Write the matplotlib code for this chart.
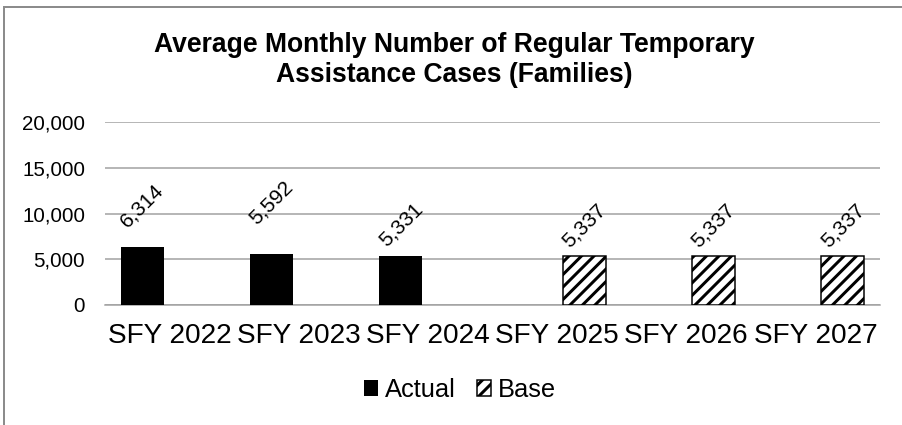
import numpy as np
import matplotlib
matplotlib.use("Agg")
import matplotlib.pyplot as plt
from matplotlib.lines import Line2D

# caseload data, SFY 2022-2027
years = ["SFY 2022", "SFY 2023", "SFY 2024", "SFY 2025", "SFY 2026", "SFY 2027"]
actual = [6314, 5592, 5331, None, None, None]
base = [None, None, None, 5337, 5337, 5337]

# distance of each value label above its bar (pixels)
label_lift = [42, 51, 32, 30, 30, 30]

DPI = 75


def px(v):
    # pixel size -> points at the figure dpi
    return v * 72.0 / DPI


plt.rcParams["font.family"] = ["Liberation Sans", "DejaVu Sans"]
plt.rcParams["hatch.linewidth"] = px(3)

fig = plt.figure(figsize=(902 / DPI, 425 / DPI), dpi=DPI)
ax = fig.add_axes([105 / 902, 1 - 305 / 425, 775 / 902, 183 / 425])

x = np.arange(len(years))
width = 0.333
shift = 0.211

a_idx = [i for i, v in enumerate(actual) if v is not None]
b_idx = [i for i, v in enumerate(base) if v is not None]
a_vals = [actual[i] for i in a_idx]
b_vals = [base[i] for i in b_idx]

ax.bar(x[a_idx] - shift, a_vals, width, color="black", edgecolor="black",
       linewidth=0, label="Actual", zorder=3)
ax.bar(x[b_idx] + shift, b_vals, width, color="white", edgecolor="black",
       hatch="//", linewidth=px(1.5), label="Base", zorder=3)

# rotated value labels
for i, v in zip(a_idx, a_vals):
    ax.annotate(f"{v:,}", (x[i] - shift, v), xytext=(0, px(label_lift[i])),
                textcoords="offset points", ha="center", va="center",
                rotation=45, fontsize=px(21))
for i, v in zip(b_idx, b_vals):
    ax.annotate(f"{v:,}", (x[i] + shift, v), xytext=(0, px(label_lift[i])),
                textcoords="offset points", ha="center", va="center",
                rotation=45, fontsize=px(21))

ax.set_xlim(-0.5, len(years) - 0.5)
ax.set_ylim(0, 20000)
ax.set_yticks(np.arange(0, 20001, 5000))
ax.yaxis.set_major_formatter(matplotlib.ticker.FuncFormatter(lambda v, p: f"{int(v):,}"))
ax.set_xticks(x)
ax.set_xticklabels(years)
ax.tick_params(axis="y", length=0, pad=px(20), labelsize=px(20.5))
ax.tick_params(axis="x", length=0, pad=px(18), labelsize=px(28))

ax.grid(axis="y", color="#a0a0a0", linewidth=px(1.5), zorder=0)
for side in ["top", "right", "left"]:
    ax.spines[side].set_visible(False)
ax.spines["bottom"].set_color("#a0a0a0")
ax.spines["bottom"].set_linewidth(px(1.5))

fig.text(454 / 902, 1 - 60 / 425,
         "Average Monthly Number of Regular Temporary\nAssistance Cases (Families)",
         ha="center", va="center", fontsize=px(26.5), fontweight="bold",
         linespacing=1.15)

fig.legend(loc="center", bbox_to_anchor=(460 / 902, 1 - 390 / 425), ncol=2,
           frameon=False, fontsize=px(25.5), handlelength=0.55,
           handleheight=0.55, handletextpad=0.27, columnspacing=0.8)

# chart frame (left and top edges)
fig.add_artist(Line2D([4 / 902, 4 / 902], [0, 1 - 7 / 425], transform=fig.transFigure,
                      color="#8c8c8c", linewidth=px(2)))
fig.add_artist(Line2D([4 / 902, 1], [1 - 7 / 425, 1 - 7 / 425], transform=fig.transFigure,
                      color="#8c8c8c", linewidth=px(2)))

fig.savefig("out.png", dpi=DPI, facecolor="white")
